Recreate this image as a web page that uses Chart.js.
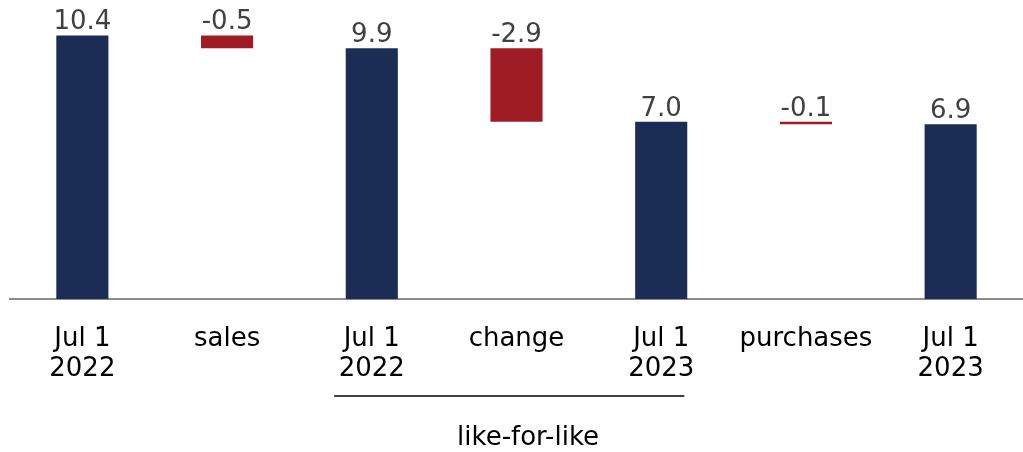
<!DOCTYPE html>
<html>
<head>
<meta charset="utf-8">
<script src="https://cdn.jsdelivr.net/npm/chart.js@4.4.1/dist/chart.umd.min.js"></script>
<style>
  html, body { margin: 0; padding: 0; background: #fff; }
  #wrap { width: 1023px; height: 452px; }
</style>
</head>
<body>
<div id="wrap"><canvas id="grafico"></canvas></div>
<script>
const categorias = [
    ['Jul 1', '2022'],
    'sales',
    ['Jul 1', '2022'],
    'change',
    ['Jul 1', '2023'],
    'purchases',
    ['Jul 1', '2023']
]
// start / end of each bar (totals start at 0)
const inicio = [0, 10.4, 0, 9.9, 0, 7.0, 0]
const fim = [10.4, 9.9, 9.9, 7.0, 7.0, 6.9, 6.9]
const rotulos = ['10.4', '-0.5', '9.9', '-2.9', '7.0', '-0.1', '6.9']
const tipos = ['total', 'delta', 'total', 'delta', 'total', 'delta', 'total']
const grupoTexto = 'like-for-like'

const AZUL = '#1b2c55'
const VERMELHO = '#a01c24'
const FONTE = "'DejaVu Sans', Verdana, sans-serif"

const valoresPlugin = {
    id: 'valores',
    afterDatasetsDraw(chart) {
        const ctx = chart.ctx
        const meta = chart.getDatasetMeta(0)
        ctx.save()
        ctx.font = '26px ' + FONTE
        ctx.fillStyle = '#404040'
        ctx.textAlign = 'center'
        ctx.textBaseline = 'alphabetic'
        meta.data.forEach((bar, i) => {
            const topo = Math.min(bar.y, bar.base)
            ctx.fillText(rotulos[i], bar.x, topo - 6)
        })
        ctx.restore()
    }
}

const grupoPlugin = {
    id: 'grupo',
    afterDraw(chart, args, opts) {
        const ctx = chart.ctx
        const x = chart.scales.x
        const passo = x.getPixelForValue(1) - x.getPixelForValue(0)
        const x1 = x.getPixelForValue(opts.de) - passo * 0.26
        const x2 = x.getPixelForValue(opts.ate) + passo * 0.16
        const meio = x.getPixelForValue((opts.de + opts.ate) / 2) + passo * 0.08
        ctx.save()
        ctx.strokeStyle = '#000'
        ctx.lineWidth = 1.3
        ctx.beginPath()
        ctx.moveTo(x1, 396)
        ctx.lineTo(x2, 396)
        ctx.stroke()
        ctx.font = '26px ' + FONTE
        ctx.fillStyle = '#000'
        ctx.textAlign = 'center'
        ctx.textBaseline = 'alphabetic'
        ctx.fillText(grupoTexto, meio, 445)
        ctx.restore()
    }
}

new Chart(document.getElementById('grafico'), {
    type: 'bar',
    data: {
        labels: categorias,
        datasets: [{
            data: inicio.map((v, i) => [v, fim[i]]),
            backgroundColor: tipos.map(t => t === 'total' ? AZUL : VERMELHO),
            borderWidth: 0,
            barPercentage: 0.36,
            categoryPercentage: 1
        }]
    },
    options: {
        responsive: true,
        maintainAspectRatio: false,
        animation: false,
        layout: {
            padding: { left: 10, right: -3, top: 0, bottom: 0 }
        },
        plugins: {
            legend: { display: false },
            tooltip: { enabled: false },
            grupo: { de: 2, ate: 4 }
        },
        scales: {
            x: {
                grid: { display: false, drawTicks: false },
                border: { display: true, color: '#8c8c8c', width: 2 },
                ticks: {
                    color: '#000',
                    padding: 25,
                    maxRotation: 0,
                    autoSkip: false,
                    font: { family: FONTE, size: 26, lineHeight: 1.15 }
                },
                afterFit(scale) { scale.height = 153 }
            },
            y: {
                display: false,
                min: 0,
                max: 11.8
            }
        }
    },
    plugins: [valoresPlugin, grupoPlugin]
})
</script>
</body>
</html>
